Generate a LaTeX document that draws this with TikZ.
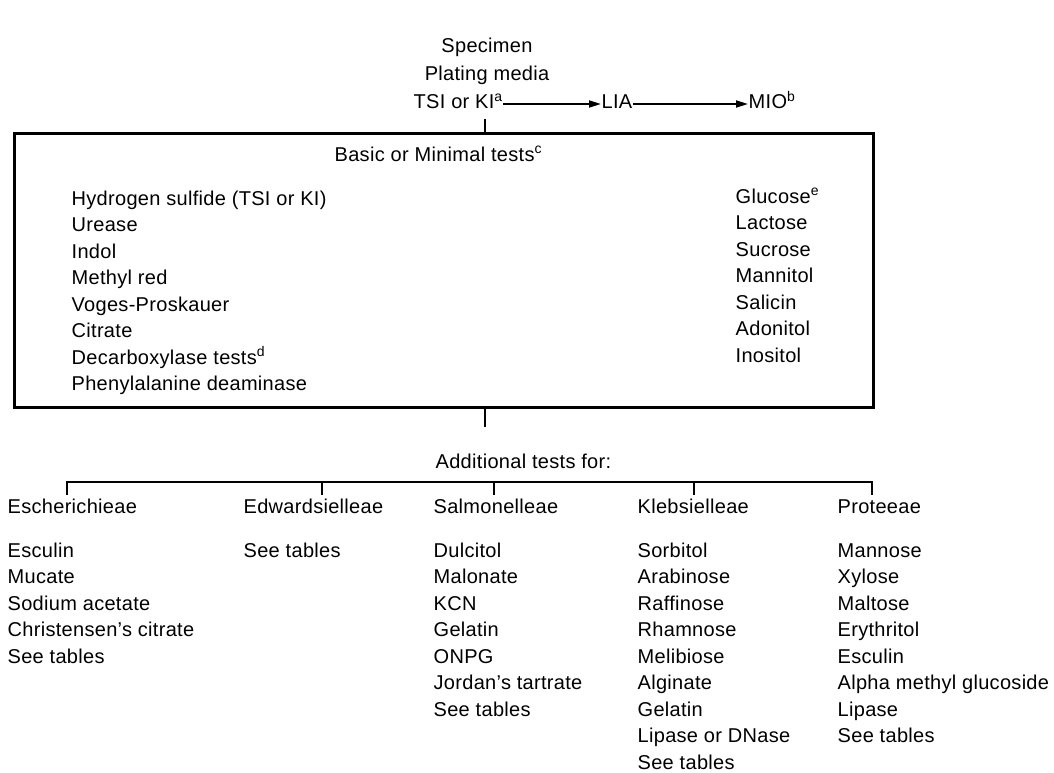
\documentclass[tikz,border=0pt]{standalone}
\usepackage{fontspec}
\setmainfont{Liberation Sans}[LetterSpace=1.5]
\usetikzlibrary{arrows.meta}
\begin{document}
\begin{tikzpicture}[x=1pt,y=-1pt,
  txt/.style={inner sep=0.5pt, text height=14pt, text depth=4pt, font=\fontsize{20}{24}\selectfont, text=black},
  lt/.style={txt, anchor=west},
  ct/.style={txt, anchor=center},
  boxline/.style={line width=2.8pt, line join=miter},
  tickline/.style={line width=2.8pt},
  brline/.style={line width=2.2pt},
  arr/.style={line width=1.8pt, -{Triangle[length=12pt,width=7pt]}}
]
\useasboundingbox (0,0) rectangle (1054,773);
% top
\node[ct] (spec) at (487,48) {Specimen};
\node[ct] (plat) at (487,76) {Plating media};
\node[lt] (tsi) at (413,104) {TSI or KI\textsuperscript{a}};
\node[lt] (lia) at (601,104) {LIA};
\node[lt] (mio) at (748,104) {MIO\textsuperscript{b}};
\draw[arr] (tsi.east) -- (lia.west);
\draw[arr] (lia.east) -- (mio.west);
% box
\node[draw, boxline, inner sep=0pt, minimum width=859pt, minimum height=274pt, anchor=north west] (box) at (13,132) {};
\coordinate (t1) at (485,119);
\draw[tickline] (t1) -- (t1 |- box.north);
\coordinate (t2) at (485,427);
\draw[tickline] (t2 |- box.south) -- (t2);
\node[lt] (basic) at (334,156) {Basic or Minimal tests\textsuperscript{c}};
\foreach \t [count=\i] in {{Hydrogen sulfide (TSI or KI)},Urease,Indol,{Methyl red},{Voges-Proskauer},Citrate,{Decarboxylase tests\textsuperscript{d}},{Phenylalanine deaminase}}
  \node[lt] (l\i) at (71,{200+26.5*(\i-1)}) {\t};
\foreach \t [count=\i] in {{Glucose\textsuperscript{e}},Lactose,Sucrose,Mannitol,Salicin,Adonitol,Inositol}
  \node[lt] (r\i) at (735,{198+26.5*(\i-1)}) {\t};
% additional tests
\node[lt] (add) at (435,463) {Additional tests for:};
\coordinate (bL) at (67,482);
\coordinate (bR) at (872,482);
\draw[brline] (67,495) -- (bL) -- (bR) -- (872,495);
\foreach \x in {322,494,694}
  \draw[brline] (\x,482) -- (\x,495);
\node[lt] (esch) at (7,508) {Escherichieae};
\node[lt] (edw) at (243,508) {Edwardsielleae};
\node[lt] (salm) at (433,508) {Salmonelleae};
\node[lt] (kleb) at (637,508) {Klebsielleae};
\node[lt] (prot) at (837,508) {Proteeae};
\foreach \t [count=\i] in {Esculin,Mucate,{Sodium acetate},{Christensen’s citrate},{See tables}}
  \node[lt] (e\i) at (7,{552+26.5*(\i-1)}) {\t};
\node[lt] (w1) at (243,552) {See tables};
\foreach \t [count=\i] in {Dulcitol,Malonate,KCN,Gelatin,ONPG,{Jordan’s tartrate},{See tables}}
  \node[lt] (s\i) at (433,{552+26.5*(\i-1)}) {\t};
\foreach \t [count=\i] in {Sorbitol,Arabinose,Raffinose,Rhamnose,Melibiose,Alginate,Gelatin,{Lipase or DNase},{See tables}}
  \node[lt] (k\i) at (637,{552+26.5*(\i-1)}) {\t};
\foreach \t [count=\i] in {Mannose,Xylose,Maltose,Erythritol,Esculin,{Alpha methyl glucoside},Lipase,{See tables}}
  \node[lt] (p\i) at (837,{552+26.5*(\i-1)}) {\t};
\end{tikzpicture}
\end{document}
